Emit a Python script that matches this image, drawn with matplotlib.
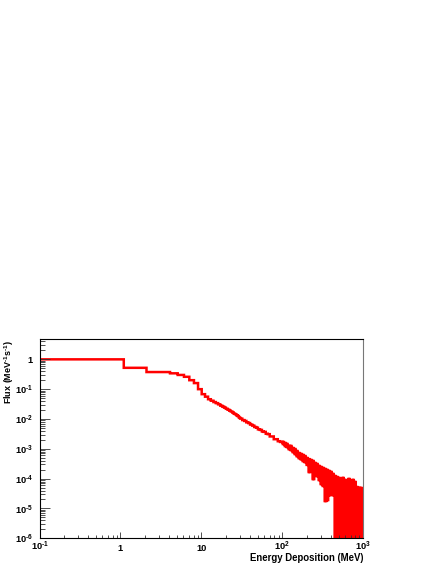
import numpy as np
import matplotlib
matplotlib.use("Agg")
import matplotlib.pyplot as plt
from matplotlib.ticker import FixedLocator, FixedFormatter, LogLocator, NullFormatter

# ---------------- data ----------------
# low-energy histogram bins (MeV) and flux (MeV^-1 s^-1)
low_edges = [0.1, 1.1, 2.1, 4.1, 5.1, 6.1, 7.1, 8.1, 9.1, 10.1, 11.1, 12.1, 13.1,
             14.1, 15.1, 16.1, 17.1, 18.1, 19.1, 20.1, 21.1, 22.1, 23.1, 24.1,
             25.1, 26.1, 27.1, 28.1, 29.1, 30.1]
low_flux = [1.0, 0.52, 0.375, 0.34, 0.30, 0.26, 0.20, 0.16, 0.10, 0.068, 0.056,
            0.046, 0.041, 0.037, 0.034, 0.031, 0.028, 0.026, 0.024, 0.022, 0.0205,
            0.019, 0.0178, 0.0165, 0.0152, 0.0144, 0.0133, 0.0125, 0.0112]

# mid-energy bins
mid_edges = [30.1, 32, 34, 36, 38, 40, 42.5, 45, 47.5, 50, 53, 56, 59, 62.5, 66,
             70, 74, 78.5, 83, 88, 94, 100]
mid_flux = [0.0103, 0.0092, 0.0086, 0.0077, 0.0073, 0.0065, 0.0060, 0.0054,
            0.0051, 0.0045, 0.0043, 0.0038, 0.0037, 0.0032, 0.0031, 0.0026,
            0.0026, 0.0021, 0.0021, 0.0018, 0.0017]

# noisy tail: groups of fine bins, with the highest and lowest bin content
# seen in each group (0 = empty bins)
tail_edges = [100, 106, 112, 118, 125, 132, 140, 148, 157, 166, 176, 186, 197,
              209, 221, 234, 248, 262, 278, 294, 311, 330, 349, 369, 391, 414,
              438, 464, 491, 520, 551, 583, 617, 654, 692, 733, 776, 821, 870,
              921, 975, 1000]
tail_high = [1.69e-3, 1.56e-3, 1.45e-3, 1.24e-3, 1.24e-3, 1.06e-3, 9.8e-4, 8.4e-4,
             7.2e-4, 6.7e-4, 6.2e-4, 5.7e-4, 4.9e-4, 4.5e-4, 4.2e-4, 3.9e-4,
             3.34e-4, 3.09e-4, 2.65e-4, 2.45e-4, 2.27e-4, 2.10e-4, 1.95e-4,
             1.80e-4, 1.67e-4, 1.43e-4, 1.22e-4, 1.13e-4, 1.05e-4, 9.7e-5,
             1.05e-4, 9.0e-5, 8.3e-5, 9.7e-5, 8.3e-5, 9.0e-5, 7.7e-5, 5.2e-5,
             4.85e-5, 4.85e-5, 4.5e-5]
tail_low = [1.45e-3, 1.24e-3, 1.15e-3, 9.8e-4, 9.1e-4, 7.8e-4, 6.7e-4, 5.7e-4,
            4.9e-4, 4.5e-4, 3.9e-4, 3.6e-4, 2.9e-4, 1.67e-4, 1.95e-4, 9.7e-5,
            1.43e-4, 1.22e-4, 9.0e-5, 6.6e-5, 5.7e-5, 1.78e-5, 1.92e-5, 2.8e-5,
            3.05e-5, 2.8e-5, 0, 2.8e-5, 0, 0, 0, 0, 0, 0, 0, 0, 0, 0, 0, 0, 0]

x_ticks = [0.1, 1, 10, 100, 1000]
x_ticklabels = [r"$10^{\text{-}1}$", "1", "10", "$10^{2}$", "$10^{3}$"]
y_ticks = [1e-6, 1e-5, 1e-4, 1e-3, 1e-2, 1e-1, 1]
y_ticklabels = [r"$10^{\text{-}6}$", r"$10^{\text{-}5}$", r"$10^{\text{-}4}$",
                r"$10^{\text{-}3}$", r"$10^{\text{-}2}$", r"$10^{\text{-}1}$", "1"]
x_title = "Energy Deposition (MeV)"
y_title = r"Flux (MeV$^{\text{-}1}$s$^{\text{-}1}$)"

# ---------------- build the step histogram ----------------
edges = list(low_edges) + list(mid_edges[1:])
values = list(low_flux) + list(mid_flux)
for i in range(len(tail_high)):
    sub = np.geomspace(tail_edges[i], tail_edges[i + 1], 5)
    edges += list(sub[1:])
    values += [tail_high[i], tail_low[i], tail_high[i], tail_low[i]]
floor = 1e-7
values = [v if v > 0 else floor for v in values]

# ---------------- figure ----------------
plt.rcParams['path.simplify'] = False
plt.rcParams['font.family'] = ['Liberation Sans']
plt.rcParams['font.weight'] = 'bold'
plt.rcParams['mathtext.fontset'] = 'custom'
plt.rcParams['mathtext.rm'] = 'Liberation Sans:bold'
plt.rcParams['mathtext.it'] = 'Liberation Sans:bold'
plt.rcParams['mathtext.bf'] = 'Liberation Sans:bold'

W, H = 436, 564
fig = plt.figure(figsize=(W / 100, H / 100), dpi=100)
fig.patch.set_facecolor('white')
x0, x1 = 39.5, 363.2
y0, y1 = 339.3, 538.3
ax = fig.add_axes([x0 / W, (H - y1) / H, (x1 - x0) / W, (y1 - y0) / H])

st = ax.stairs(values, edges, baseline=None, color='#ff0000', linewidth=1.8)
st.set_snap(False)

ax.set_xscale('log')
ax.set_yscale('log')
ax.set_xlim(0.1, 1000)
ax.set_ylim(1e-6, 4.7)

ax.xaxis.set_major_locator(FixedLocator(x_ticks))
ax.xaxis.set_major_formatter(FixedFormatter(x_ticklabels))
ax.xaxis.set_minor_locator(LogLocator(base=10, subs=np.arange(2, 10), numticks=100))
ax.xaxis.set_minor_formatter(NullFormatter())
ax.yaxis.set_major_locator(FixedLocator(y_ticks))
ax.yaxis.set_major_formatter(FixedFormatter(y_ticklabels))
ax.yaxis.set_minor_locator(LogLocator(base=10, subs=np.arange(2, 10), numticks=100))
ax.yaxis.set_minor_formatter(NullFormatter())

ax.tick_params(axis='both', which='both', direction='in', top=False, right=False,
               colors='#333333', width=0.6, labelcolor='black', labelsize=6.7)
ax.tick_params(axis='y', which='major', length=7.2, pad=4.8)
ax.tick_params(axis='y', which='minor', length=3.6)
ax.tick_params(axis='x', which='major', length=4.3, pad=8.9)
ax.tick_params(axis='x', which='minor', length=2.2)
for lab in ax.get_xticklabels():
    lab.set_verticalalignment('baseline')

for s in ax.spines.values():
    s.set_linewidth(0.8)
    s.set_color('black')
ax.spines['right'].set_color('#777777')

fig.text(9 / W, (H - 339.5) / H, y_title, rotation=90, ha='center', va='top',
         fontsize=6.5, fontweight='bold')
fig.text(363.5 / W, (H - 561.2) / H, x_title, ha='right', va='baseline',
         fontsize=6.9, fontweight='bold')

fig.savefig('out.png', dpi=100, facecolor='white')
